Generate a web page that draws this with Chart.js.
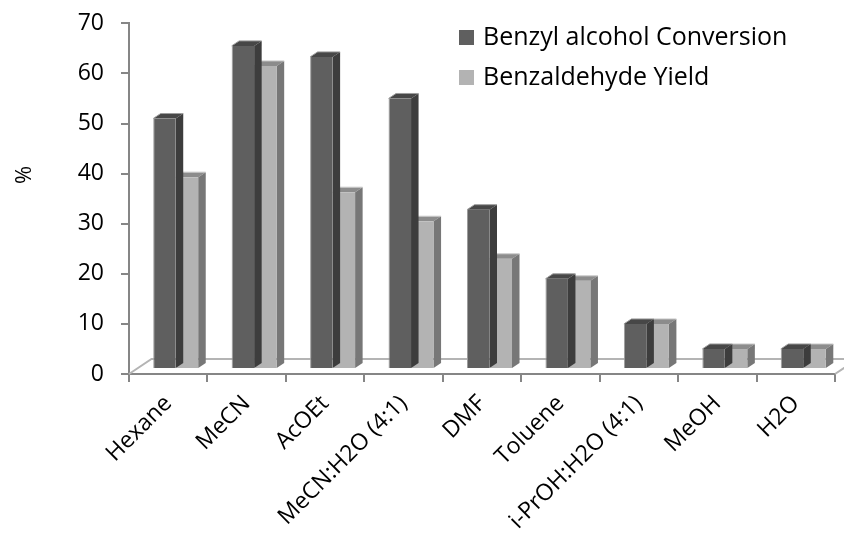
<!DOCTYPE html>
<html>
<head>
<meta charset="utf-8">
<script src="https://cdn.jsdelivr.net/npm/chart.js@4.4.1/dist/chart.umd.min.js"></script>
<style>
  html, body { margin: 0; padding: 0; background: #fff; }
  #grafico { display: block; }
</style>
</head>
<body>
<canvas id="grafico" width="844" height="543"></canvas>
<script>
// ---------------- DATA ----------------
const solvents = [
  "Hexane", "MeCN", "AcOEt", "MeCN:H2O (4:1)", "DMF",
  "Toluene", "i-PrOH:H2O (4:1)", "MeOH", "H2O"
];

const conversion = [50, 64.5, 62.3, 54, 31.8, 18, 9, 4, 4];

const benzaldehydeYield = [38.3, 60.5, 35.3, 29.5, 22, 17.6, 9, 4, 4];

const seriesNames = ["Benzyl alcohol Conversion", "Benzaldehyde Yield"];

const yTicks = [0, 10, 20, 30, 40, 50, 60, 70];

const FONT = "'Open Sans', 'DejaVu Sans', sans-serif";

// depth of one bar (the floor is three bars deep)
const DX = 7.5;
const DY = 5;


// ---------------- 3D LOOK ----------------
const box3d = {
  id: "box3d",

  beforeDatasetsDraw(chart) {
    const { ctx, chartArea: a } = chart;

    // floor edges
    ctx.save();
    ctx.strokeStyle = "#b4b4b4";
    ctx.lineWidth = 2;
    ctx.beginPath();
    ctx.moveTo(a.left, a.bottom);
    ctx.lineTo(a.left + 3 * DX, a.bottom - 3 * DY);
    ctx.lineTo(a.right + 3 * DX, a.bottom - 3 * DY);
    ctx.lineTo(a.right, a.bottom);
    ctx.stroke();
    ctx.restore();
  },

  beforeDatasetDraw(chart) {
    // bars stand one step back on the floor
    chart.ctx.save();
    chart.ctx.translate(DX, -DY);
  },

  afterDatasetDraw(chart, args) {
    const ctx = chart.ctx;
    const ds = chart.data.datasets[args.index];

    args.meta.data.forEach(bar => {
      const { x, y, base, width } =
        bar.getProps(["x", "y", "base", "width"], true);

      const l = x - width / 2;
      const r = x + width / 2;

      // top
      ctx.fillStyle = ds.topColor;
      ctx.beginPath();
      ctx.moveTo(l, y);
      ctx.lineTo(l + DX, y - DY);
      ctx.lineTo(r + DX, y - DY);
      ctx.lineTo(r, y);
      ctx.closePath();
      ctx.fill();

      // side
      ctx.fillStyle = ds.sideColor;
      ctx.beginPath();
      ctx.moveTo(r, y);
      ctx.lineTo(r + DX, y - DY);
      ctx.lineTo(r + DX, base - DY);
      ctx.lineTo(r, base);
      ctx.closePath();
      ctx.fill();

      // light rim along the top edges
      ctx.strokeStyle = ds.borderColor;
      ctx.lineWidth = 1;
      ctx.beginPath();
      ctx.moveTo(l, y);
      ctx.lineTo(l + DX, y - DY);
      ctx.lineTo(r + DX, y - DY);
      ctx.stroke();
    });

    ctx.restore();
  },

  afterDraw(chart) {
    const ctx = chart.ctx;

    ctx.save();

    // legend
    ctx.font = "25px " + FONT;
    ctx.textBaseline = "middle";
    ctx.textAlign = "left";

    chart.data.datasets.forEach((ds, i) => {
      const top = 30 + i * 40;
      ctx.fillStyle = ds.backgroundColor;
      ctx.fillRect(459, top, 15, 15);
      ctx.fillStyle = "#000";
      ctx.fillText(ds.label, 483, top + 8);
    });

    // axis title
    ctx.translate(25, 175);
    ctx.rotate(-Math.PI / 2);
    ctx.textAlign = "center";
    ctx.font = "22px " + FONT;
    ctx.fillText("%", 0, 0);

    ctx.restore();
  }
};


// ---------------- CHART ----------------
new Chart(
  document.getElementById("grafico"),
  {
    type: "bar",

    data: {
      labels: solvents,

      datasets: [
        {
          label: seriesNames[0],
          data: conversion,
          backgroundColor: "#5f5f5f",
          borderColor: "#9e9e9e",
          borderWidth: { left: 1, top: 0, right: 0, bottom: 0 },
          borderSkipped: false,
          topColor: "#474747",
          sideColor: "#3d3d3d",
          categoryPercentage: 0.574,
          barPercentage: 1,
          clip: false
        },
        {
          label: seriesNames[1],
          data: benzaldehydeYield,
          backgroundColor: "#b3b3b3",
          borderColor: "#cdcdcd",
          borderWidth: { left: 1, top: 0, right: 0, bottom: 0 },
          borderSkipped: false,
          topColor: "#8c8c8c",
          sideColor: "#777777",
          categoryPercentage: 0.574,
          barPercentage: 1,
          clip: false
        }
      ]
    },

    options: {
      responsive: false,
      animation: false,

      layout: {
        padding: { left: 0, top: 0, right: 9, bottom: 0 }
      },

      plugins: {
        legend: { display: false },
        tooltip: { enabled: false }
      },

      scales: {
        x: {
          grid: {
            drawOnChartArea: false,
            color: "#868686",
            lineWidth: 2,
            tickLength: 8
          },
          border: { color: "#868686", width: 2 },
          ticks: {
            color: "#000",
            font: { family: FONT, size: 23 },
            minRotation: 45,
            maxRotation: 45,
            autoSkip: false,
            padding: 8
          },
          afterFit(scale) {
            scale.height = 169;
          }
        },

        y: {
          min: yTicks[0],
          max: yTicks[yTicks.length - 1],
          afterBuildTicks(scale) {
            scale.ticks = yTicks.map(v => ({ value: v }));
          },
          grid: {
            drawOnChartArea: false,
            color: "#868686",
            lineWidth: 2,
            tickLength: 8
          },
          border: { color: "#868686", width: 2 },
          ticks: {
            color: "#000",
            // small lineHeight keeps the top of the axis at y = 23
            font: { family: FONT, size: 23, lineHeight: 0.55 },
            padding: 17
          },
          afterFit(scale) {
            scale.width = 129;
          }
        }
      }
    },

    plugins: [box3d]
  }
);
</script>
</body>
</html>
